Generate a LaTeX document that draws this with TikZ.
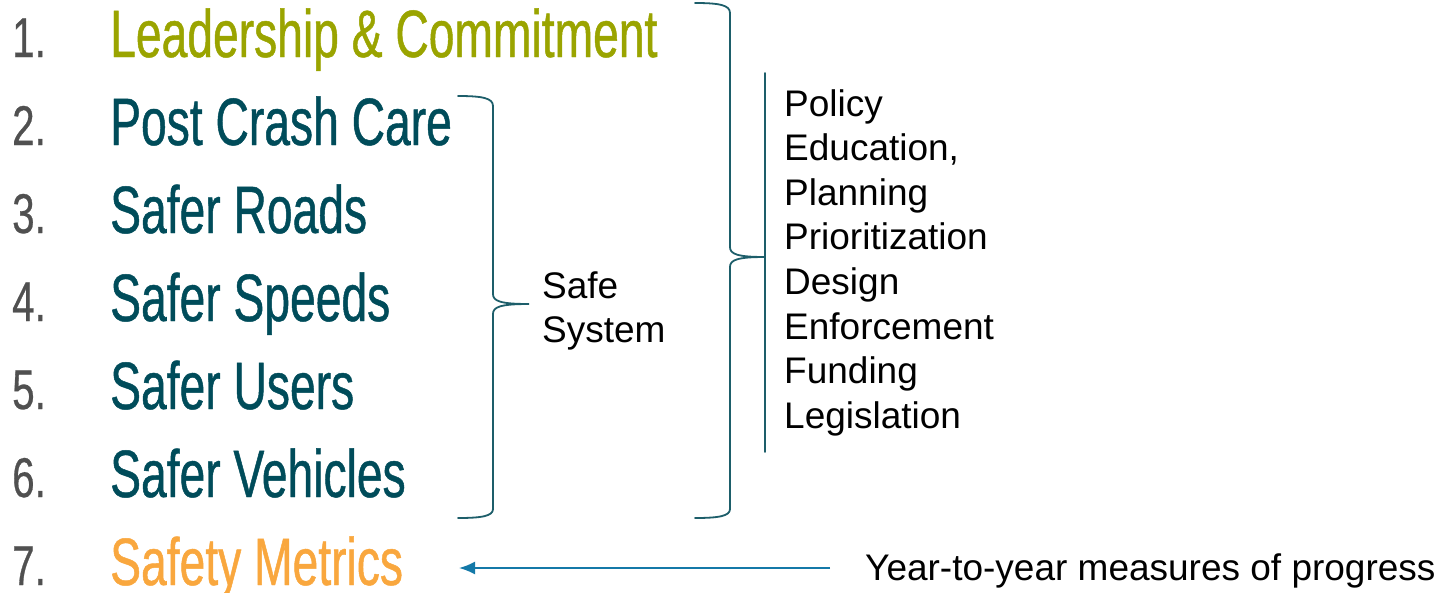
\documentclass[tikz,border=0pt]{standalone}
\usepackage{fontspec}
\setmainfont{Liberation Sans}
\newfontfamily\narrowfont[FakeStretch=0.69,FakeBold=0.7]{Liberation Sans}
\newfontfamily\numfont[FakeStretch=0.72,FakeBold=0.5]{Liberation Sans}
\usetikzlibrary{arrows.meta,positioning}
\definecolor{pillarolive}{HTML}{9AA400}
\definecolor{pillarteal}{HTML}{004C5A}
\definecolor{amber}{HTML}{F9A73E}
\definecolor{numgray}{HTML}{505050}
\definecolor{bracecol}{HTML}{1D5E6A}
\definecolor{arrowblue}{HTML}{1479A8}
\tikzset{
  num/.style={anchor=base west,inner sep=0pt,text=numgray,font=\numfont\fontsize{56}{60}\selectfont},
  pillar/.style={anchor=base west,inner sep=0pt,font=\narrowfont\fontsize{67}{70}\selectfont},
  plain/.style={anchor=base west,inner sep=0pt,font=\fontsize{37}{44}\selectfont},
  curly/.style={draw=bracecol,line width=1.8pt,line cap=round},
}
\begin{document}
\begin{tikzpicture}[x=1pt,y=-1pt]
\useasboundingbox (0,0) rectangle (1445,592);
% numbered list
\foreach \n [count=\i from 0] in {1,...,7}
  \node (n\n) [num] at (12,57+88*\i) {\n.};
\node (lead) [pillar,text=pillarolive] at (110,57) {Leadership \& Commitment};
\node (post) [pillar,text=pillarteal] at (110,145) {Post Crash Care};
\node (roads) [pillar,text=pillarteal] at (110,233) {Safer Roads};
\node (speeds) [pillar,text=pillarteal] at (110,321) {Safer Speeds};
\node (users) [pillar,text=pillarteal] at (110,409) {Safer Users};
\node (vehicles) [pillar,text=pillarteal] at (110,497) {Safer Vehicles};
\node (metrics) [pillar,text=amber] at (110,585) {Safety Metrics};
%
% inner brace: safe system
\coordinate (ss top) at (458,96);
\coordinate (ss tip) at (529,304);
\coordinate (ss bot) at (458,518);
\draw[curly] (ss top) .. controls (482,96) and (493,98) .. (493,106) -- (493,294)
  .. controls (493,301) and (500,304) .. (ss tip)
  .. controls (500,304) and (493,307) .. (493,314) -- (493,509)
  .. controls (493,516) and (482,518) .. (ss bot);
\node (safe) [plain] at (542,298) {Safe};
\node (system) [plain] at (542,342) {System};
%
% outer brace: actions
\coordinate (act top) at (695,3);
\coordinate (act tip) at (765,257);
\coordinate (act bot) at (695,518);
\draw[curly] (act top) .. controls (719,3) and (730,5) .. (730,13) -- (730,247)
  .. controls (730,254) and (737,257) .. (act tip)
  .. controls (737,257) and (730,260) .. (730,267) -- (730,509)
  .. controls (730,516) and (719,518) .. (act bot);
\coordinate (bar top) at (765,73);
\coordinate (bar bot) at (765,452);
\draw[curly] (bar top) -- (bar bot);
\foreach \w [count=\i from 0] in {Policy,{Education,},Planning,Prioritization,Design,Enforcement,Funding,Legislation}
  \node (act\i) [plain] at (784,116+44.6*\i) {\w};
%
% progress arrow
\node (yty) [plain] at (865,580) {Year-to-year measures of progress};
\coordinate (arr start) at (830,568);
\coordinate (arr end) at (459,568);
\draw[arrowblue,line width=1.8pt,-{Latex[length=16pt,width=13pt]}] (arr start) -- (arr end);
\end{tikzpicture}
\end{document}
